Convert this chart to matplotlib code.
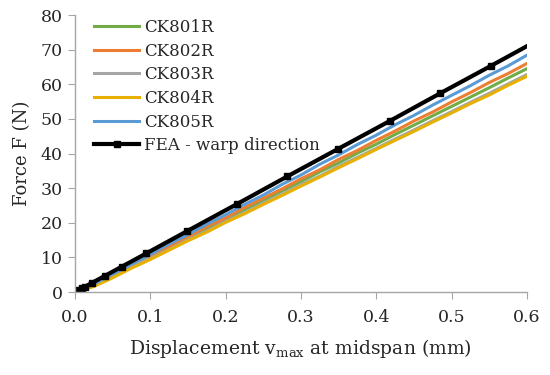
import matplotlib
matplotlib.use("Agg")
import matplotlib.pyplot as plt

plt.rcParams["font.family"] = ["DejaVu Serif"]
plt.rcParams["mathtext.fontset"] = "dejavuserif"

# displacement grid for the measured curves (mm)
disp = [0.0, 0.025, 0.05, 0.075, 0.1, 0.125, 0.15, 0.175, 0.2, 0.225, 0.25, 0.275,
        0.3, 0.325, 0.35, 0.375, 0.4, 0.425, 0.45, 0.475, 0.5, 0.525, 0.55, 0.575, 0.6]

ck801 = [0, 2.1, 4.7, 7.6, 10.2, 12.9, 15.7, 18.3, 21.1, 23.8, 26.5, 29.2, 31.9,
         34.7, 37.3, 40.1, 42.7, 45.5, 48.2, 50.9, 53.6, 56.3, 59.0, 61.8, 64.5]
ck802 = [0, 2.0, 4.8, 7.7, 10.4, 13.3, 15.9, 18.9, 21.4, 24.4, 27.1, 29.8, 32.7,
         35.3, 38.3, 40.9, 43.8, 46.5, 49.4, 52.0, 54.9, 57.6, 60.5, 63.1, 66.0]
ck803 = [0, 1.8, 4.4, 7.2, 9.8, 12.3, 15.1, 17.6, 20.4, 22.9, 25.7, 28.2, 31.0,
         33.5, 36.3, 38.9, 41.5, 44.2, 46.8, 49.5, 52.1, 54.8, 57.4, 60.1, 62.8]
ck804 = [0, 1.6, 4.1, 6.9, 9.4, 12.1, 14.8, 17.3, 20.1, 22.6, 25.3, 27.9, 30.6,
         33.2, 35.9, 38.5, 41.2, 43.8, 46.4, 49.1, 51.7, 54.4, 56.9, 59.7, 62.3]
ck805 = [0, 2.3, 5.2, 8.0, 10.9, 13.9, 16.6, 19.6, 22.3, 25.3, 28.0, 31.1, 33.8,
         36.9, 39.6, 42.6, 45.3, 48.3, 51.0, 54.0, 56.8, 59.6, 62.6, 65.3, 68.4]

# FEA result, warp direction
fea_x = [0, 0.004, 0.009, 0.013, 0.023, 0.04, 0.062, 0.095, 0.149, 0.215,
         0.282, 0.349, 0.418, 0.485, 0.553, 0.6]
fea_f = [0, 0.5, 1.1, 1.5, 2.7, 4.7, 7.3, 11.2, 17.6, 25.4,
         33.4, 41.3, 49.4, 57.4, 65.4, 71.0]

series = [("CK801R", ck801, "#70AD47"),
          ("CK802R", ck802, "#ED7D31"),
          ("CK803R", ck803, "#A5A5A5"),
          ("CK804R", ck804, "#E8B000"),
          ("CK805R", ck805, "#5B9BD5")]

fig = plt.figure(figsize=(5.5, 3.75), dpi=100)
ax = fig.add_axes([0.136, 0.221, 0.822, 0.739])

for name, vals, col in series:
    ax.plot(disp, vals, color=col, lw=2.2, label=name)

ax.plot(fea_x, fea_f, color="black", lw=3.0, marker="s", ms=4.5,
        markevery=list(range(len(fea_x) - 1)), label="FEA - warp direction")

ax.set_xlim(0, 0.6)
ax.set_ylim(0, 80)
ax.set_xticks([0.0, 0.1, 0.2, 0.3, 0.4, 0.5, 0.6])
ax.set_xticklabels(["0.0", "0.1", "0.2", "0.3", "0.4", "0.5", "0.6"])
ax.set_yticks(range(0, 81, 10))

for s in ["top", "right"]:
    ax.spines[s].set_visible(False)
for s in ["left", "bottom"]:
    ax.spines[s].set_color("#A6A6A6")
    ax.spines[s].set_linewidth(1.0)
ax.tick_params(colors="#A6A6A6", labelcolor="#262626", labelsize=12.5, length=5)
ax.tick_params(axis="x", pad=7)

ax.set_xlabel(r"Displacement v$_{\mathrm{max}}$ at midspan (mm)", fontsize=13.5,
              color="#262626", labelpad=8)
ax.set_ylabel("Force F (N)", fontsize=13, color="#262626", labelpad=7)

leg = ax.legend(loc="upper left", bbox_to_anchor=(0.01, 1.04), frameon=False,
                fontsize=12, handlelength=2.7, handletextpad=0.3, labelspacing=0.4)
for t in leg.get_texts():
    t.set_color("#262626")

fig.savefig("out.png", dpi=100)
